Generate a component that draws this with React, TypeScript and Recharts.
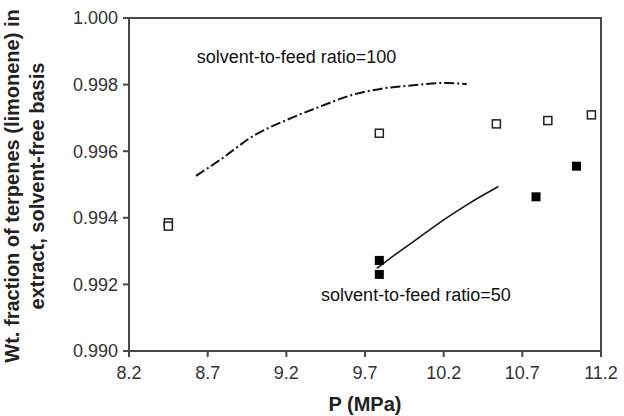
import React from 'react';
import { ComposedChart, XAxis, YAxis, Scatter, Line, ReferenceArea, ReferenceDot } from 'recharts';

const xTicks = [8.2, 8.7, 9.2, 9.7, 10.2, 10.7, 11.2];
const yTicks = [0.99, 0.992, 0.994, 0.996, 0.998, 1.0];

const open100 = [
  { x: 8.45, y: 0.99385 },
  { x: 8.45, y: 0.99375 },
  { x: 9.791, y: 0.99654 },
  { x: 10.535, y: 0.99682 },
  { x: 10.862, y: 0.99692 },
  { x: 11.139, y: 0.99709 },
];

const filled50 = [
  { x: 9.791, y: 0.99272 },
  { x: 9.791, y: 0.9923 },
  { x: 10.787, y: 0.99463 },
  { x: 11.044, y: 0.99555 },
];

const curve100 = [
  { x: 8.626, y: 0.99526 },
  { x: 8.779, y: 0.99574 },
  { x: 8.99, y: 0.99646 },
  { x: 9.203, y: 0.99694 },
  { x: 9.414, y: 0.99734 },
  { x: 9.626, y: 0.9977 },
  { x: 9.796, y: 0.99787 },
  { x: 10.007, y: 0.99798 },
  { x: 10.22, y: 0.99805 },
  { x: 10.347, y: 0.99801 },
];

const curve50 = [
  { x: 9.775, y: 0.99248 },
  { x: 9.902, y: 0.99293 },
  { x: 10.05, y: 0.99343 },
  { x: 10.198, y: 0.99393 },
  { x: 10.347, y: 0.99439 },
  { x: 10.548, y: 0.99494 },
];

const notes = [
  { x: 8.63, y: 0.99883, text: 'solvent-to-feed ratio=100' },
  { x: 9.421, y: 0.99168, text: 'solvent-to-feed ratio=50' },
];

const xTitle = 'P (MPa)';
const yTitle1 = 'Wt. fraction of terpenes (limonene) in';
const yTitle2 = 'extract, solvent-free basis';

const FONT = '"Liberation Sans", Arial, sans-serif';
const AXIS = '#4a4a4a';

const OpenSquare = (props: any) => {
  const { cx, cy } = props;
  return <rect x={cx - 4} y={cy - 4} width={8} height={8} fill="#fff" stroke="#222" strokeWidth={1.5} />;
};

const FilledSquare = (props: any) => {
  const { cx, cy } = props;
  return <rect x={cx - 4.5} y={cy - 4.5} width={9} height={9} fill="#000" />;
};

const NoteLabel = (text: string) => (props: any) => {
  const vb = props.viewBox || {};
  const x = vb.x + (vb.width || 0) / 2;
  const y = vb.y + (vb.height || 0) / 2;
  return (
    <text x={x} y={y} textAnchor="start" dominantBaseline="central" fontFamily={FONT} fontSize={18} fill="#111">
      {text}
    </text>
  );
};

const YTitle = () => (
  <g fontFamily={FONT} fontSize={20} fontWeight="bold" fill="#222">
    <text transform="translate(12,186) rotate(-90)" textAnchor="middle" dominantBaseline="central">
      {yTitle1}
    </text>
    <text transform="translate(37,186) rotate(-90)" textAnchor="middle" dominantBaseline="central">
      {yTitle2}
    </text>
  </g>
);

const XTitle = () => (
  <text x={365} y={411} textAnchor="middle" fontFamily={FONT} fontSize={20} fontWeight="bold" fill="#222">
    {xTitle}
  </text>
);

export default function App() {
  return (
    <div style={{ position: 'absolute', left: 0, top: 0, background: '#fff' }}>
      <ComposedChart width={624} height={416} margin={{ top: 18, right: 23, bottom: 0, left: 0 }}>
        <XAxis
          dataKey="x"
          type="number"
          domain={[8.2, 11.2]}
          ticks={xTicks}
          allowDataOverflow
          height={65}
          tickSize={6}
          tickMargin={9}
          stroke={AXIS}
          strokeWidth={2}
          tick={{ fill: '#333', fontSize: 18, fontFamily: FONT }}
          tickFormatter={(v: number) => v.toFixed(1)}
          label={<XTitle />}
        />
        <YAxis
          dataKey="y"
          type="number"
          domain={[0.99, 1.0]}
          ticks={yTicks}
          allowDataOverflow
          width={129}
          tickSize={6}
          tickMargin={5}
          stroke={AXIS}
          strokeWidth={2}
          tick={{ fill: '#333', fontSize: 18, fontFamily: FONT }}
          tickFormatter={(v: number) => v.toFixed(3)}
          label={<YTitle />}
        />
        <ReferenceArea x1={8.2} x2={11.2} y1={0.99} y2={1.0} fill="none" stroke={AXIS} strokeWidth={2} ifOverflow="visible" />
        <Line
          data={curve100}
          dataKey="y"
          type="monotone"
          stroke="#111"
          strokeWidth={2}
          strokeDasharray="10 3 2 3"
          dot={false}
          activeDot={false}
          isAnimationActive={false}
        />
        <Line
          data={curve50}
          dataKey="y"
          type="monotone"
          stroke="#111"
          strokeWidth={1.5}
          dot={false}
          activeDot={false}
          isAnimationActive={false}
        />
        <Scatter data={open100} dataKey="y" shape={OpenSquare} isAnimationActive={false} />
        <Scatter data={filled50} dataKey="y" shape={FilledSquare} isAnimationActive={false} />
        {notes.map((n) => (
          <ReferenceDot key={n.text} x={n.x} y={n.y} r={0} fill="none" stroke="none" label={NoteLabel(n.text)} ifOverflow="visible" />
        ))}
      </ComposedChart>
    </div>
  );
}
